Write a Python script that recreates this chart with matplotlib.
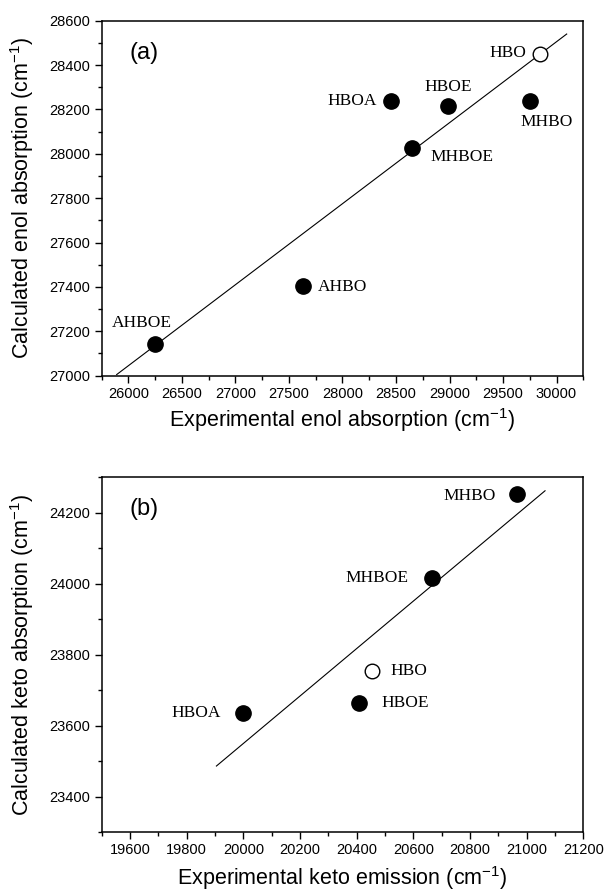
import matplotlib
matplotlib.use("Agg")
import matplotlib.pyplot as plt
from matplotlib.ticker import MultipleLocator

# Panel (a): enol absorption
enol_names = ['HBO', 'HBOA', 'HBOE', 'MHBO', 'MHBOE', 'AHBO', 'AHBOE']
enol_exp = [29850, 28450, 28990, 29750, 28650, 27630, 26245]
enol_calc = [28450, 28240, 28215, 28240, 28028, 27404, 27143]
enol_fit_x = [25890, 30095]
enol_fit_y = [27005, 28540]

# Panel (b): keto emission / absorption
keto_names = ['HBO', 'HBOA', 'HBOE', 'MHBO', 'MHBOE']
keto_exp = [20455, 20000, 20410, 20965, 20665]
keto_calc = [23754, 23635, 23663, 24252, 24015]
keto_fit_x = [19905, 21065]
keto_fit_y = [23486, 24262]

# label placement (offset in points, horizontal alignment)
enol_offsets = {
    'HBO': (-10.5, 1, 'right'),
    'HBOA': (-10, 0, 'right'),
    'HBOE': (0, 14, 'center'),
    'MHBO': (12, -15.5, 'center'),
    'MHBOE': (13, -7, 'left'),
    'AHBO': (11, -1, 'left'),
    'AHBOE': (-9, 15, 'center'),
}
keto_offsets = {
    'HBO': (13, 0, 'left'),
    'HBOA': (-16.5, 0, 'right'),
    'HBOE': (16, 0, 'left'),
    'MHBO': (-15, -1, 'right'),
    'MHBOE': (-16.5, 0, 'right'),
}

plt.rcParams['font.family'] = ['Liberation Sans', 'DejaVu Sans']
plt.rcParams['mathtext.default'] = 'regular'


def draw_panel(ax, names, xs, ys, fit_x, fit_y, offsets, tag):
    ax.plot(fit_x, fit_y, color='black', lw=0.8)
    for name, x, y in zip(names, xs, ys):
        if name == 'HBO':
            ax.plot(x, y, 'o', ms=10.5, mfc='white', mec='black', mew=1.0)
        else:
            ax.plot(x, y, 'o', ms=11, mfc='black', mec='black')
        dx, dy, ha = offsets[name]
        ax.annotate(name, (x, y), xytext=(dx, dy), textcoords='offset points',
                    ha=ha, va='center', fontsize=12.5, family='Liberation Serif')
    ax.text(0.058, 0.91, tag, transform=ax.transAxes, fontsize=17,
            ha='left', va='center')
    for s in ax.spines.values():
        s.set_linewidth(1.1)
    ax.tick_params(which='both', direction='out', top=False, right=False,
                   labelsize=10.5, width=1.0)
    ax.tick_params(which='major', length=5, pad=3)
    ax.tick_params(which='minor', length=3)


fig = plt.figure(figsize=(6.06, 8.93), dpi=100)

ax1 = fig.add_axes([0.1678, 0.5793, 0.7947, 0.3975])
draw_panel(ax1, enol_names, enol_exp, enol_calc, enol_fit_x, enol_fit_y,
           enol_offsets, '(a)')
ax1.set_xlim(25750, 30250)
ax1.set_ylim(27000, 28600)
ax1.xaxis.set_major_locator(MultipleLocator(500))
ax1.xaxis.set_minor_locator(MultipleLocator(250))
ax1.yaxis.set_major_locator(MultipleLocator(200))
ax1.yaxis.set_minor_locator(MultipleLocator(100))
ax1.set_xlabel('Experimental enol absorption (cm$^{-1}$)', fontsize=15.5)
ax1.set_ylabel('Calculated enol absorption (cm$^{-1}$)', fontsize=15.5)

ax2 = fig.add_axes([0.1678, 0.0683, 0.7947, 0.3972])
draw_panel(ax2, keto_names, keto_exp, keto_calc, keto_fit_x, keto_fit_y,
           keto_offsets, '(b)')
ax2.set_xlim(19500, 21200)
ax2.set_ylim(23300, 24300)
ax2.xaxis.set_major_locator(MultipleLocator(200))
ax2.xaxis.set_minor_locator(MultipleLocator(100))
ax2.yaxis.set_major_locator(MultipleLocator(200))
ax2.yaxis.set_minor_locator(MultipleLocator(100))
ax2.set_xlabel('Experimental keto emission (cm$^{-1}$)', fontsize=15.5)
ax2.set_ylabel('Calculated keto absorption (cm$^{-1}$)', fontsize=15.5)

for ax, xl_y in [(ax1, -0.125), (ax2, -0.13)]:
    ax.xaxis.label.set_verticalalignment('center')
    ax.xaxis.set_label_coords(0.5, xl_y)
    ax.yaxis.label.set_verticalalignment('center')
    ax.yaxis.set_label_coords(-0.165, 0.5)

fig.savefig('out.png', dpi=100)
